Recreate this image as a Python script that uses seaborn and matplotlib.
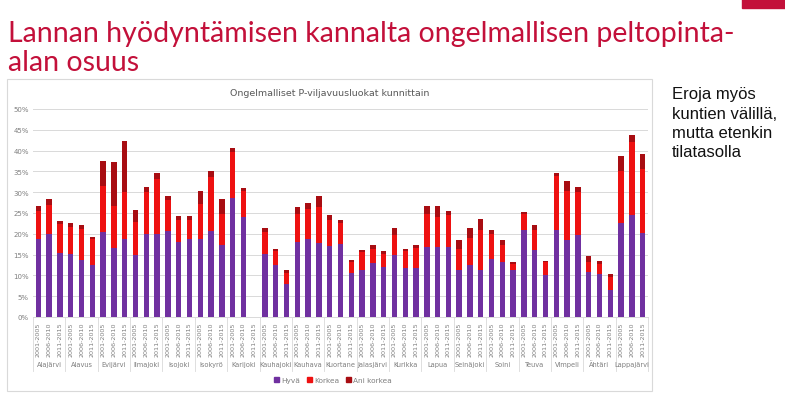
import matplotlib
matplotlib.use("Agg")
import matplotlib.pyplot as plt
import matplotlib.patches as mpatches
import matplotlib.transforms as mtransforms
import numpy as np
import pandas as pd
import seaborn as sns

# ---------------- data ----------------
kunnat = ["Alajärvi", "Alavus", "Evijärvi", "Ilmajoki", "Isojoki", "Isokyrö", "Karijoki",
          "Kauhajoki", "Kauhava", "Kuortane", "Jalasjärvi", "Kurikka", "Lapua", "Seinäjoki",
          "Soini", "Teuva", "Vimpeli", "Ähtäri", "Lappajärvi"]
jaksot = ["2001-2005", "2006-2010", "2011-2015"]

# shares of field area (%), three periods per municipality; None = no data
hyva = [18.8, 20.0, 15.4,  15.1, 13.6, 12.4,  20.4, 16.6, 18.8,  14.8, 20.0, 20.0,
        20.6, 18.0, 18.8,  18.8, 20.6, 17.2,  28.6, 24.0, None,  15.2, 12.4, 8.0,
        18.0, 18.8, 17.8,  17.0, 17.6, 10.6,  11.2, 13.0, 12.0,  15.0, 11.8, 11.8,
        16.8, 16.8, 16.8,  11.2, 12.4, 11.2,  14.0, 13.2, 11.2,  21.0, 16.2, 10.0,
        20.8, 18.4, 19.8,  10.8, 10.4, 6.6,   22.6, 24.6, 20.2]
korkea = [6.8, 7.0, 7.0,  6.5, 7.6, 6.4,  11.2, 10.2, 11.2,  8.0, 10.0, 13.2,
          7.6, 5.2, 4.6,  8.4, 13.0, 7.6,  11.0, 6.4, None,  5.2, 3.4, 2.6,
          6.8, 7.2, 8.6,  6.2, 5.0, 2.6,  4.4, 3.4, 3.2,  4.8, 4.0, 4.8,
          8.0, 7.2, 7.6,  5.2, 6.6, 9.6,  6.0, 4.0, 1.6,  3.8, 4.8, 3.2,
          13.0, 12.0, 10.2,  2.4, 2.4, 3.0,  12.6, 17.4, 15.4]
ani_korkea = [1.2, 1.4, 0.7,  1.0, 1.0, 0.4,  5.8, 10.4, 12.4,  3.0, 1.2, 1.4,
              0.8, 1.0, 0.8,  3.0, 1.6, 3.6,  1.0, 0.6, None,  1.0, 0.6, 0.8,
              1.6, 1.4, 2.6,  1.2, 0.6, 0.4,  0.6, 0.8, 0.6,  1.6, 0.6, 0.6,
              1.8, 2.6, 1.0,  2.2, 2.4, 2.8,  0.8, 1.2, 0.4,  0.4, 1.2, 0.2,
              0.7, 2.3, 1.2,  1.4, 0.6, 0.8,  3.6, 1.8, 3.6]

sarjat = ["Hyvä", "Korkea", "Ani korkea"]
y_ticks = [0, 5, 10, 15, 20, 25, 30, 35, 40, 45, 50]

# ---------------- table ----------------
rows = []
for gi, k in enumerate(kunnat):
    for pi, j in enumerate(jaksot):
        i = gi * 3 + pi
        rows.append({"key": f"{k} {j}", "kunta": k, "jakso": j,
                     "hyva": np.nan if hyva[i] is None else hyva[i] / 100,
                     "korkea": np.nan if korkea[i] is None else korkea[i] / 100,
                     "ani": np.nan if ani_korkea[i] is None else ani_korkea[i] / 100})
df = pd.DataFrame(rows)
df["s1"] = df["hyva"]
df["s2"] = df["hyva"] + df["korkea"]
df["s3"] = df["s2"] + df["ani"]
order = list(df["key"])

C_HYVA = "#7030A0"
C_KORKEA = "#EE1111"
C_ANI = "#A80D12"
RED_TITLE = "#C3103A"
GRAY = "#7F7F7F"

W, H = 785, 406
fig = plt.figure(figsize=(W / 100, H / 100), dpi=100)
fig.patch.set_facecolor("white")

def fx(px):
    return px / W

def fy(py):
    return 1 - py / H

ax_l, ax_r, ax_t, ax_b = 33, 648, 110, 318
ax = fig.add_axes([fx(ax_l), fy(ax_b), (ax_r - ax_l) / W, (ax_b - ax_t) / H])

for col, c in [("s3", C_ANI), ("s2", C_KORKEA), ("s1", C_HYVA)]:
    sns.barplot(data=df, x="key", y=col, order=order, color=c, width=0.5,
                errorbar=None, linewidth=0, saturation=1, ax=ax, zorder=3)

ax.set_ylim(0, 0.5)
ax.set_xlim(-0.5, len(order) - 0.5)
ax.set_yticks([v / 100 for v in y_ticks])
ax.set_yticklabels([f"{v}%" for v in y_ticks], fontsize=5, color=GRAY)
ax.yaxis.grid(True, color="#D9D9D9", linewidth=0.7, zorder=0)
ax.set_axisbelow(True)
ax.set_xlabel("")
ax.set_ylabel("")
for s in ["top", "right", "left"]:
    ax.spines[s].set_visible(False)
ax.spines["bottom"].set_color("#D9D9D9")
ax.spines["bottom"].set_linewidth(0.7)
ax.tick_params(axis="y", length=0, pad=3)
ax.set_xticks(range(len(order)))
ax.set_xticklabels(list(df["jakso"]), rotation=90, fontsize=4.6, color=GRAY)
ax.tick_params(axis="x", length=0, pad=3)

# multi-level category axis
trans = mtransforms.blended_transform_factory(ax.transData, ax.transAxes)
axh = ax_b - ax_t
for gi, k in enumerate(kunnat):
    ax.text(gi * 3 + 1, -(365 - ax_b) / axh, k, transform=trans, ha="center", va="center",
            fontsize=4.8, color=GRAY)
for gi in range(len(kunnat) + 1):
    ax.plot([gi * 3 - 0.5] * 2, [0, -(372 - ax_b) / axh], transform=trans, color="#D9D9D9",
            linewidth=0.6, clip_on=False)

# chart title
fig.text(fx(330), fy(93), "Ongelmalliset P-viljavuusluokat kunnittain", ha="center", va="center",
         fontsize=6.8, color="#595959")

# legend
handles = [mpatches.Patch(color=c, label=l) for c, l in zip([C_HYVA, C_KORKEA, C_ANI], sarjat)]
fig.legend(handles=handles, loc="center", bbox_to_anchor=(fx(333), fy(381)), ncol=3,
           frameon=False, fontsize=5.3, handlelength=0.6, handleheight=0.6,
           handletextpad=0.3, columnspacing=1.0, labelcolor=GRAY)

# chart frame
fig.patches.append(mpatches.Rectangle((fx(7), fy(392)), (652 - 7) / W, (392 - 80) / H,
                                      transform=fig.transFigure, fill=False,
                                      edgecolor="#D9D9D9", linewidth=0.8))

# slide title
title_font = ["Lato", "DejaVu Sans"]
fig.text(fx(8), fy(42), "Lannan hyödyntämisen kannalta ongelmallisen peltopinta-",
         ha="left", va="baseline", fontsize=20.5, color=RED_TITLE, family=title_font)
fig.text(fx(8), fy(71), "alan osuus", ha="left", va="baseline", fontsize=20.5,
         color=RED_TITLE, family=title_font)
fig.patches.append(mpatches.Rectangle((fx(742), fy(9)), (785 - 742) / W, 9 / H,
                                      transform=fig.transFigure, color=RED_TITLE))

# side text
side = ["Eroja myös", "kuntien välillä,", "mutta etenkin", "tilatasolla"]
for li, line in enumerate(side):
    fig.text(fx(672), fy(99.3 + li * 19.3), line, ha="left", va="baseline", fontsize=12,
             color="#111111", family=["Liberation Sans", "DejaVu Sans"])

fig.savefig("out.png", dpi=100, facecolor="white")
